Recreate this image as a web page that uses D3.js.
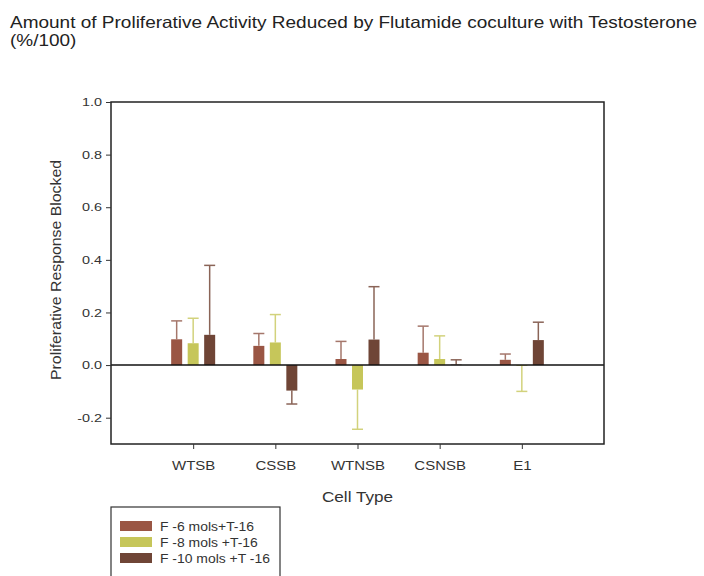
<!DOCTYPE html>
<html>
<head>
<meta charset="utf-8">
<script src="https://cdn.jsdelivr.net/npm/d3@7"></script>
<style>
  body { margin: 0; background: #fff; }
  svg { display: block; font-family: "Liberation Sans", Arial, sans-serif; }
</style>
</head>
<body>
<svg id="chart" width="704" height="576"></svg>
<script>
// ---- data ----
const categories = ["WTSB", "CSSB", "WTNSB", "CSNSB", "E1"];
const seriesNames = ["F -6 mols+T-16", "F -8 mols +T-16", "F -10 mols +T -16"];
const valuesF6  = [0.098, 0.073, 0.023, 0.047, 0.020];
const valuesF8  = [0.083, 0.086, -0.093, 0.023, -0.003];
const valuesF10 = [0.115, -0.097, 0.097, 0.002, 0.095];
const errorsF6  = [0.070, 0.047, 0.067, 0.101, 0.022];
const errorsF8  = [0.095, 0.106, 0.151, 0.088, 0.097];
const errorsF10 = [0.264, 0.051, 0.201, 0.018, 0.068];
const yTicks = [-0.2, 0.0, 0.2, 0.4, 0.6, 0.8, 1.0];
const colors = ["#9a5644", "#c6c65a", "#6f4536"];
const errColors = ["#a5776b", "#d2d27c", "#8a6457"];

const seriesValues = [valuesF6, valuesF8, valuesF10];
const seriesErrors = [errorsF6, errorsF8, errorsF10];

const svg = d3.select("#chart");
const L = 111, R = 604, T = 102, B = 444;
const SX = 1.25; // horizontal glyph stretch seen in the reference

function stretch(sel, f) {
  sel.each(function () {
    const w = this.getComputedTextLength();
    d3.select(this).attr("textLength", w * f).attr("lengthAdjust", "spacingAndGlyphs");
  });
  return sel;
}

const x = d3.scaleLinear().domain([0, categories.length + 1]).range([L, R]);
const xs = d3.scaleBand().domain(d3.range(3)).range([-22, 22]).paddingInner(1/3).paddingOuter(0);
const y = d3.scaleLinear().domain([-0.3, 1.0]).range([B, T]);

// title
const t1 = svg.append("text").attr("x", 10).attr("y", 28).attr("font-size", 16.5).attr("fill", "#222")
  .text("Amount of Proliferative Activity Reduced by Flutamide coculture with Testosterone");
t1.attr("textLength", 687).attr("lengthAdjust", "spacingAndGlyphs");
const t2 = svg.append("text").attr("x", 10).attr("y", 46).attr("font-size", 16.5).attr("fill", "#222")
  .text("(%/100)");
stretch(t2, 1.15);

// bars
const data = [];
categories.forEach((c, i) => {
  for (let s = 0; s < 3; s++) {
    data.push({ ci: i, s, v: seriesValues[s][i], e: seriesErrors[s][i] });
  }
});

const g = svg.append("g");
const cx = d => x(d.ci + 1) + xs(d.s);
const bw = xs.bandwidth();

// error bars (one-sided, in direction of value)
data.forEach(d => {
  const dir = d.v >= 0 ? 1 : -1;
  const yEnd = y(d.v + dir * d.e);
  const mid = cx(d) + bw / 2;
  g.append("line").attr("x1", mid).attr("x2", mid).attr("y1", y(d.v)).attr("y2", yEnd)
    .attr("stroke", errColors[d.s]).attr("stroke-width", 1.5);
  g.append("line").attr("x1", cx(d)).attr("x2", cx(d) + bw).attr("y1", yEnd).attr("y2", yEnd)
    .attr("stroke", errColors[d.s]).attr("stroke-width", 1.5);
});

g.selectAll("rect.bar").data(data).enter().append("rect").attr("class", "bar")
  .attr("x", cx).attr("width", bw)
  .attr("y", d => y(Math.max(0, d.v)))
  .attr("height", d => Math.abs(y(d.v) - y(0)))
  .attr("fill", d => colors[d.s]);

// zero line
svg.append("line").attr("x1", L).attr("x2", R).attr("y1", y(0)).attr("y2", y(0))
  .attr("stroke", "#111").attr("stroke-width", 1.5);

// frame
svg.append("rect").attr("x", L).attr("y", T).attr("width", R - L).attr("height", B - T)
  .attr("fill", "none").attr("stroke", "#222").attr("stroke-width", 1.5);

// y axis
const fmt = v => d3.format(".1f")(v).replace("\u2212", "-");
const yAxis = d3.axisLeft(y).tickValues(yTicks).tickFormat(fmt).tickSize(5).tickPadding(4);
const ya = svg.append("g").attr("transform", `translate(${L},0)`).call(yAxis);
ya.select(".domain").remove();
ya.selectAll("text").attr("font-size", 11.5).attr("fill", "#333").attr("font-family", "Liberation Sans, Arial, sans-serif");
stretch(ya.selectAll("text"), SX);
ya.selectAll("line").attr("stroke", "#333");

// x axis
const xAxis = d3.axisBottom(x).tickValues(d3.range(1, categories.length + 1))
  .tickFormat(i => categories[i - 1]).tickSize(5).tickPadding(12);
const xa = svg.append("g").attr("transform", `translate(0,${B})`).call(xAxis);
xa.select(".domain").remove();
xa.selectAll("text").attr("font-size", 12.5).attr("fill", "#333").attr("font-family", "Liberation Sans, Arial, sans-serif");
stretch(xa.selectAll("text"), 1.2);
xa.selectAll("line").attr("stroke", "#333");

// axis titles
const ct = svg.append("text").attr("x", (L + R) / 2).attr("y", 502).attr("text-anchor", "middle")
  .attr("font-size", 14.5).attr("fill", "#333").text("Cell Type");
stretch(ct, 1.18);
svg.append("text").attr("transform", `translate(61,${(T + B) / 2 - 3}) rotate(-90)`)
  .attr("text-anchor", "middle").attr("font-size", 15.5).attr("fill", "#333")
  .attr("textLength", 220).attr("lengthAdjust", "spacingAndGlyphs")
  .text("Proliferative Response Blocked");

// legend
const lg = svg.append("g");
lg.append("rect").attr("x", 111).attr("y", 507).attr("width", 169).attr("height", 80)
  .attr("fill", "none").attr("stroke", "#333").attr("stroke-width", 1.2);
seriesNames.forEach((n, i) => {
  lg.append("rect").attr("x", 120).attr("y", 521 + i * 16).attr("width", 32).attr("height", 10)
    .attr("fill", colors[i]);
  const tx = lg.append("text").attr("x", 160).attr("y", 530.5 + i * 16).attr("font-size", 12)
    .attr("fill", "#333").text(n);
  stretch(tx, 1.16);
});
</script>
</body>
</html>
